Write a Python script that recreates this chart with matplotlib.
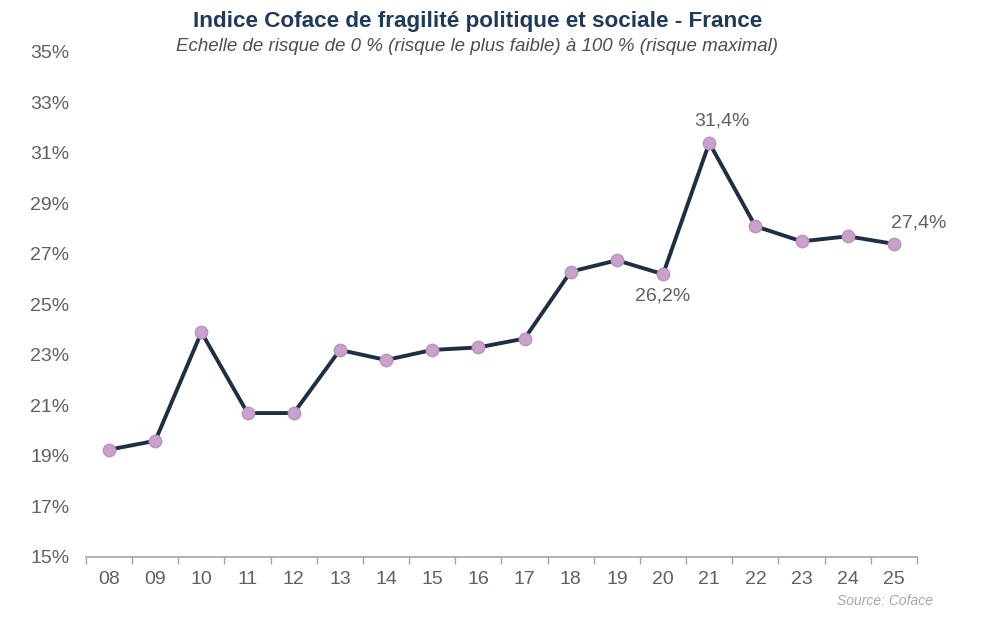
import numpy as np
import matplotlib
matplotlib.use("Agg")
import matplotlib.pyplot as plt
from matplotlib.ticker import FixedLocator

plt.rcParams['font.family'] = ['Liberation Sans', 'DejaVu Sans']

years = ['08', '09', '10', '11', '12', '13', '14', '15', '16',
         '17', '18', '19', '20', '21', '22', '23', '24', '25']
index_values = [19.25, 19.6, 23.9, 20.7, 20.7, 23.2, 22.8, 23.2, 23.3,
                23.65, 26.3, 26.75, 26.2, 31.4, 28.1, 27.5, 27.7, 27.4]
yticks = list(range(15, 36, 2))

# labelled points: index, text, offset in points
labels = [(13, '31,4%', (9, 16)),
          (12, '26,2%', (0, -16)),
          (17, '27,4%', (18, 15))]

navy = '#1e2f44'
grey = '#5b6168'

fig = plt.figure(figsize=(10, 6.34), dpi=100)
ax = fig.add_axes([0.086, 0.1215, 0.831, 0.7965])

x = np.arange(len(years))
ax.plot(x, index_values, color=navy, lw=2.8, zorder=2)
ax.scatter(x, index_values, s=80, color='#c9a2cc', edgecolor='#b993bd',
           linewidth=1, zorder=3)

for i, txt, off in labels:
    ax.annotate(txt, (x[i], index_values[i]), xytext=off,
                textcoords='offset points', ha='center', va='center',
                fontsize=14, color=grey)

ax.set_xlim(-0.5, len(years) - 0.5)
ax.set_ylim(15, 35)
ax.set_yticks(yticks)
ax.set_yticklabels([f'{v}%' for v in yticks], fontsize=14, color=grey)
ax.set_xticks(x)
ax.set_xticklabels(years, fontsize=14, color=grey)
ax.xaxis.set_minor_locator(FixedLocator(np.arange(-0.5, len(years), 1)))
ax.tick_params(axis='x', which='major', length=0, pad=10)
ax.tick_params(axis='x', which='minor', length=5, color='#a0a4a8', width=1)
ax.tick_params(axis='y', length=0, pad=12)

for s in ['top', 'right', 'left']:
    ax.spines[s].set_visible(False)
ax.spines['bottom'].set_color('#a0a4a8')
ax.spines['bottom'].set_linewidth(1.2)

fig.text(0.4775, 0.966, 'Indice Coface de fragilité politique et sociale - France',
         ha='center', va='center', fontsize=16.2, fontweight='bold', color='#1f3a5a')
fig.text(0.4775, 0.927, 'Echelle de risque de 0 % (risque le plus faible) à 100 % (risque maximal)',
         ha='center', va='center', fontsize=13.5, style='italic', color='#4a4f55')
fig.text(0.933, 0.052, 'Source: Coface', ha='right', va='center',
         fontsize=10, style='italic', color='#a3a8ad')

fig.savefig('out.png', dpi=100, facecolor='white')
